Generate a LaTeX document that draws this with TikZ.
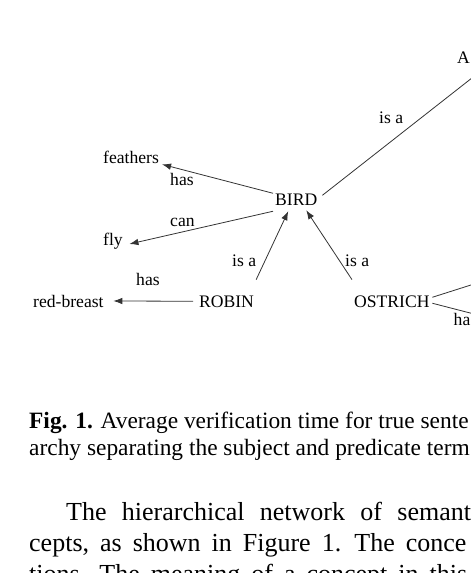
\documentclass[tikz,border=0pt]{standalone}
\usepackage{fontspec}
\setmainfont{Liberation Serif}
\usetikzlibrary{arrows.meta}

\begin{document}
\begin{tikzpicture}[x=1pt,y=-1pt,
  concept/.style={inner sep=0pt, anchor=base west, font=\fontsize{17.6}{20}\selectfont},
  relation/.style={concept},
  link/.style={draw=black!80, line width=0.8pt, -{Latex[length=9pt,width=6.5pt]}},
  captext/.style={inner sep=0pt, anchor=base west, font=\fontsize{23.4}{28}\selectfont},
  bodytext/.style={inner sep=0pt, anchor=base west, font=\fontsize{26}{31}\selectfont}]
\useasboundingbox (0,0) rectangle (471,573);
\clip (0,0) rectangle (471,573);

% concepts
\node[concept] (animal) at (457,63) {A};
\node[concept] (bird) at (275,205) {BIRD};
\node[concept] (feathers) at (103,163) {feathers};
\node[concept] (fly) at (103,245) {fly};
\node[concept] (robin) at (199,307) {ROBIN};
\node[concept] (redbreast) at (33,307) {red-breast};
\node[concept] (ostrich) at (354,307) {OSTRICH};
\coordinate (ostrichup) at (540,263);
\coordinate (ostrichdown) at (540,331);

% relations
\node[relation] (isaanimal) at (379,123) {is a};
\node[relation] (hasfeathers) at (170,185) {has};
\node[relation] (canfly) at (170,226) {can};
\node[relation] (isarobin) at (232,266) {is a};
\node[relation] (isaostrich) at (345,266) {is a};
\node[relation] (hasbreast) at (136,285) {has};
\node[relation] (hasostrich) at (453.5,325) {ha};

\draw[link] ([shift={(5pt,4pt)}]bird.east) -- ([shift={(14.3pt,-5pt)}]animal.south east);
\draw[link] ([xshift=-2pt]bird.north west) -- ([shift={(3pt,-1pt)}]feathers.south east);
\draw[link] ([shift={(-2pt,-6pt)}]bird.south west) -- ([shift={(6.5pt,1pt)}]fly.base east);
\draw[link] ([shift={(2pt,15.5pt)}]robin.north east) -- ([shift={(-8pt,-6pt)}]bird.south);
\draw[link] ([shift={(-2pt,15.5pt)}]ostrich.north west) -- ([shift={(10pt,-5pt)}]bird.south);
\draw[link] ([xshift=-6pt]robin.west) -- ([xshift=9.6pt]redbreast.east);
\draw[link] ([shift={(2.7pt,4pt)}]ostrich.east) -- (ostrichup);
\draw[link] ([shift={(2.7pt,-2pt)}]ostrich.east) -- (ostrichdown);

% caption and text
\node[captext] (cap1) at (29,428) {\textbf{Fig. 1.} Average verification time for true sente};
\node[captext] (cap2) at (29,455) {archy separating the subject and predicate term};
\node[bodytext] (text1) at (66,520) {\spaceskip=15.3pt\relax The hierarchical network of semant};
\node[bodytext] (text2) at (29,551) {\spaceskip=11pt\relax cepts, as shown in Figure 1. The conce};
\node[bodytext] (text3) at (29,582) {\spaceskip=11pt\relax tions. The meaning of a concept in this};
\end{tikzpicture}
\end{document}
